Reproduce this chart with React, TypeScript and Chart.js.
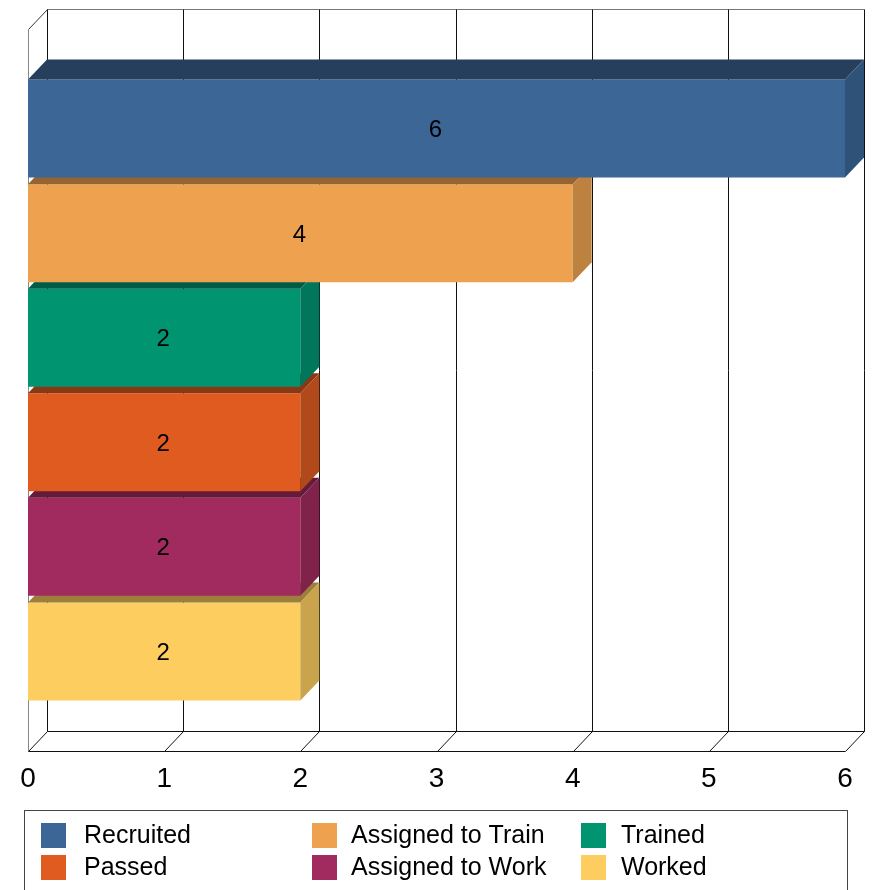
import React, { useEffect, useRef } from 'react';
import { Chart, registerables } from 'chart.js';

Chart.register(...registerables);

const categories = [''];
const seriesNames = ['Recruited', 'Assigned to Train', 'Trained', 'Passed', 'Assigned to Work', 'Worked'];
const seriesValues = [6, 4, 2, 2, 2, 2];
const seriesColors = ['#3B6696', '#EEA250', '#009470', '#DF5B20', '#A12B5E', '#FDCD60'];
const xTickValues = [0, 1, 2, 3, 4, 5, 6];

const FONT = "'Liberation Sans', Arial, sans-serif";
const DX = 19;
const DY = 20;

function shade(hex: string, f: number): string {
  const n = parseInt(hex.slice(1), 16);
  const r = Math.round(((n >> 16) & 255) * f);
  const g = Math.round(((n >> 8) & 255) * f);
  const b = Math.round((n & 255) * f);
  return `rgb(${r},${g},${b})`;
}

const depthPlugin = {
  id: 'depth3d',
  beforeDatasetsDraw(chart: any) {
    const { ctx, chartArea: a, scales } = chart;
    const x = scales.x;
    const t = a.top - DY;
    const b = a.bottom - DY;
    const line = (x1: number, y1: number, x2: number, y2: number, color: string) => {
      ctx.strokeStyle = color;
      ctx.beginPath();
      ctx.moveTo(x1, y1);
      ctx.lineTo(x2, y2);
      ctx.stroke();
    };
    ctx.save();
    ctx.lineWidth = 1;
    const al = Math.round(a.left) + 0.5;
    const ar = Math.round(a.right) + 0.5;
    const ab = Math.round(a.bottom) + 0.5;
    const at = Math.round(a.top) + 0.5;
    const tt = Math.round(t) + 0.5;
    const bb = Math.round(b) + 0.5;
    line(al + DX, tt, ar + DX, tt, '#777');
    line(al + DX, bb, ar + DX, bb, '#111');
    line(al, ab, ar, ab, '#111');
    line(al, at, al + DX, tt, '#333');
    line(al, at, al, ab, '#888');
    xTickValues.forEach((v) => {
      const px = Math.round(x.getPixelForValue(v)) + 0.5;
      line(px + DX, tt, px + DX, bb, '#111');
      line(px, ab, px + DX, bb, '#111');
    });
    ctx.restore();
  },
  afterDatasetDraw(chart: any, args: any) {
    const { ctx } = chart;
    const idx = args.index;
    const el = args.meta.data[0];
    if (!el) return;
    const p = el.getProps(['x', 'y', 'base', 'height'], true);
    const top = p.y - p.height / 2;
    const bottom = p.y + p.height / 2;
    const left = Math.min(p.base, p.x);
    const right = Math.max(p.base, p.x);
    const col = seriesColors[idx];
    ctx.save();
    ctx.fillStyle = shade(col, 0.62);
    ctx.beginPath();
    ctx.moveTo(left, top);
    ctx.lineTo(left + DX, top - DY);
    ctx.lineTo(right + DX, top - DY);
    ctx.lineTo(right, top);
    ctx.closePath();
    ctx.fill();
    ctx.fillStyle = shade(col, 0.8);
    ctx.beginPath();
    ctx.moveTo(right, top);
    ctx.lineTo(right + DX, top - DY);
    ctx.lineTo(right + DX, bottom - DY);
    ctx.lineTo(right, bottom);
    ctx.closePath();
    ctx.fill();
    ctx.restore();
  },
  afterDatasetsDraw(chart: any) {
    const { ctx } = chart;
    ctx.save();
    ctx.font = `24px ${FONT}`;
    ctx.fillStyle = '#000';
    ctx.textAlign = 'center';
    ctx.textBaseline = 'middle';
    chart.data.datasets.forEach((ds: any, i: number) => {
      const el = chart.getDatasetMeta(i).data[0];
      if (!el) return;
      const p = el.getProps(['x', 'y', 'base'], true);
      ctx.fillText(String(ds.data[0]), (p.x + p.base) / 2 - 1, p.y + 2);
    });
    ctx.restore();
  },
  afterDraw(chart: any) {
    const { ctx } = chart;
    ctx.save();
    ctx.strokeStyle = '#444';
    ctx.lineWidth = 1;
    ctx.strokeRect(24.5, 810.5, 823, 100);
    const boxX = [41, 312, 581];
    const textX = [84, 351, 621];
    const rowY = [823, 855];
    ctx.font = `25px ${FONT}`;
    ctx.textAlign = 'left';
    ctx.textBaseline = 'middle';
    chart.data.datasets.forEach((ds: any, i: number) => {
      const c = i % 3;
      const cy = rowY[Math.floor(i / 3)];
      ctx.fillStyle = ds.backgroundColor;
      ctx.fillRect(boxX[c], cy, 25, 25);
      ctx.fillStyle = '#000';
      ctx.fillText(ds.label, textX[c], cy + 13);
    });
    ctx.restore();
  },
};

export default function App() {
  const ref = useRef<HTMLCanvasElement | null>(null);
  useEffect(() => {
    document.body.style.margin = '0';
    document.body.style.overflow = 'hidden';
    const canvas = ref.current;
    if (!canvas) return;
    const chart = new Chart(canvas, {
      type: 'bar',
      data: {
        labels: categories,
        datasets: seriesNames.map((name, i) => ({
          label: name,
          data: [seriesValues[i]],
          backgroundColor: seriesColors[i],
          borderWidth: 0,
          categoryPercentage: 0.869,
          barPercentage: 0.937,
        })),
      },
      options: {
        indexAxis: 'y',
        responsive: false,
        animation: false,
        devicePixelRatio: 1,
        layout: { padding: { left: 28, right: 28, top: 29, bottom: 99 } },
        plugins: {
          legend: { display: false },
          tooltip: { enabled: false },
        },
        scales: {
          x: {
            min: 0,
            max: 6,
            afterBuildTicks: (axis: any) => {
              axis.ticks = xTickValues.map((v) => ({ value: v }));
            },
            afterFit: (axis: any) => {
              axis.height = 40;
            },
            ticks: {
              color: '#000',
              padding: 3,
              font: { family: FONT, size: 28 },
              autoSkip: false,
              maxRotation: 0,
            },
            grid: { display: false },
            border: { display: false },
          },
          y: { display: false },
        },
      },
      plugins: [depthPlugin],
    } as any);
    return () => chart.destroy();
  }, []);
  return (
    <div style={{ width: 873, height: 890 }}>
      <canvas ref={ref} width={873} height={890} style={{ display: 'block', width: 873, height: 890 }} />
    </div>
  );
}
